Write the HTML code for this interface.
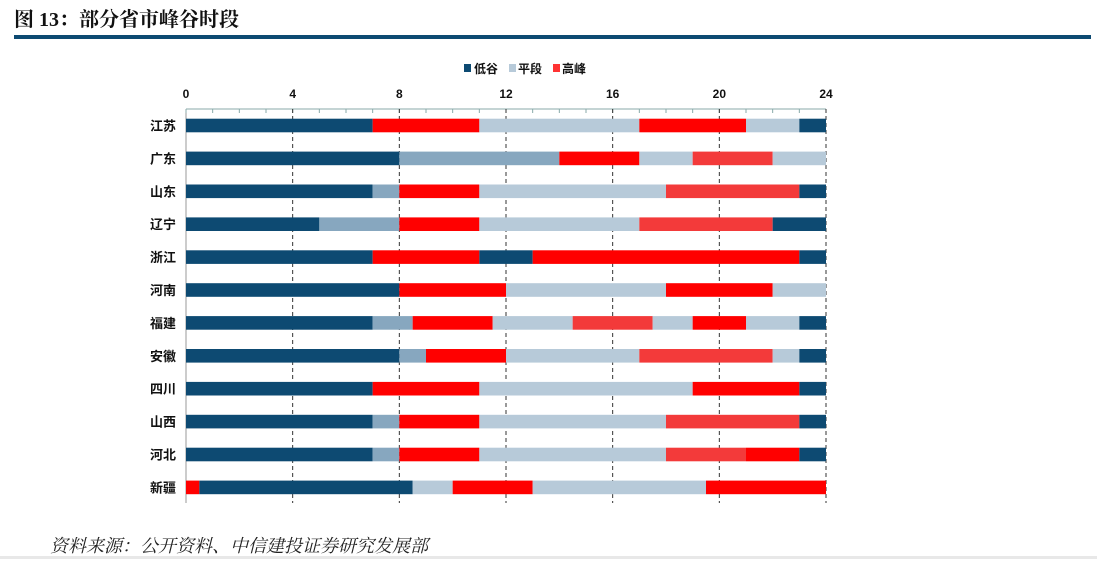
<!DOCTYPE html>
<html><head><meta charset="utf-8"><style>
body{margin:0;background:#fff;width:1097px;height:559px;overflow:hidden;font-family:"Liberation Sans","Noto Sans CJK SC",sans-serif}
</style></head><body>
<svg width="1097" height="559" xmlns="http://www.w3.org/2000/svg" font-family="Liberation Sans, Noto Sans CJK SC, sans-serif">
<text x="14" y="26" font-size="20" font-weight="bold" fill="#111" font-family="Liberation Serif, Noto Serif CJK SC, serif">图 13：部分省市峰谷时段</text>
<rect x="14" y="35" width="1077" height="4" fill="#0d4a72"/>
<g font-size="12" font-weight="bold" fill="#111">
<rect x="464" y="64" width="7" height="8" fill="#0d4a72"/><text x="474" y="73">低谷</text>
<rect x="509" y="64" width="7" height="8" fill="#b7cad9"/><text x="518" y="73">平段</text>
<rect x="553" y="64" width="7" height="8" fill="#f33"/><text x="562" y="73">高峰</text>
</g>
<g id="chart"></g>
<text x="50" y="552" font-size="18" font-style="italic" fill="#222" font-family="Liberation Serif, Noto Serif CJK SC, serif">资料来源：公开资料、中信建投证券研究发展部</text>
<rect x="0" y="556" width="1097" height="3" fill="#e8e8e8"/>
</svg>
<script>
const g=document.getElementById('chart');const ns='http://www.w3.org/2000/svg';
function el(t,a,txt){const e=document.createElementNS(ns,t);for(const k in a)e.setAttribute(k,a[k]);if(txt)e.textContent=txt;g.appendChild(e);}
const X=h=>186+h*640/24;
const C={d:'#0d4a72',m:'#87a7bf',l:'#b7cad9',r:'#ff0000',p:'#f33a3a'};
el('line',{x1:186,y1:109,x2:826,y2:109,stroke:'#8aa',"stroke-width":1});
el('line',{x1:186,y1:109,x2:186,y2:503,stroke:'#999',"stroke-width":1});
for(let h=0;h<=24;h++){el('line',{x1:X(h),y1:109,x2:X(h),y2:113,stroke:'#8aa'});}
for(let h=4;h<=24;h+=4){el('line',{x1:X(h),y1:109,x2:X(h),y2:503,stroke:'#333',"stroke-dasharray":"4,3"});}
for(let h=0;h<=24;h+=4){el('text',{x:X(h),y:98,"font-size":12,"font-weight":"bold","text-anchor":"middle",fill:'#111'},String(h));}
const rows=[
['江苏',[[7,'d'],[11,'r'],[17,'l'],[21,'r'],[23,'l'],[24,'d']]],
['广东',[[8,'d'],[14,'m'],[17,'r'],[19,'l'],[22,'p'],[24,'l']]],
['山东',[[7,'d'],[8,'m'],[11,'r'],[18,'l'],[23,'p'],[24,'d']]],
['辽宁',[[5,'d'],[8,'m'],[11,'r'],[17,'l'],[22,'p'],[24,'d']]],
['浙江',[[7,'d'],[11,'r'],[13,'d'],[23,'r'],[24,'d']]],
['河南',[[8,'d'],[12,'r'],[18,'l'],[22,'r'],[24,'l']]],
['福建',[[7,'d'],[8.5,'m'],[11.5,'r'],[14.5,'l'],[17.5,'p'],[19,'l'],[21,'r'],[23,'l'],[24,'d']]],
['安徽',[[8,'d'],[9,'m'],[12,'r'],[17,'l'],[22,'p'],[23,'l'],[24,'d']]],
['四川',[[7,'d'],[11,'r'],[19,'l'],[23,'r'],[24,'d']]],
['山西',[[7,'d'],[8,'m'],[11,'r'],[18,'l'],[23,'p'],[24,'d']]],
['河北',[[7,'d'],[8,'m'],[11,'r'],[18,'l'],[21,'p'],[23,'r'],[24,'d']]],
['新疆',[[0.5,'r'],[8.5,'d'],[10,'l'],[13,'r'],[19.5,'l'],[24,'r']]]];
rows.forEach((r,i)=>{const cy=125.5+i*32.9;let s=0;
r[1].forEach(([e,c])=>{el('rect',{x:X(s),y:cy-6.8,width:X(e)-X(s),height:13.6,fill:C[c]});s=e;});
el('text',{x:176,y:cy+5,"font-size":13,"font-weight":"bold","text-anchor":"end",fill:'#111'},r[0]);});
</script>
</body></html>
